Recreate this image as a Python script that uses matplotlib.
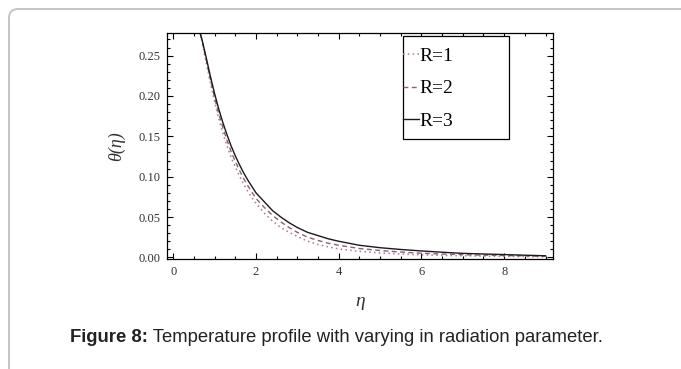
import numpy as np
import matplotlib
matplotlib.use("Agg")
import matplotlib.pyplot as plt
from matplotlib.patches import FancyBboxPatch, Rectangle
from matplotlib.transforms import IdentityTransform
from matplotlib.ticker import MultipleLocator, FormatStrFormatter

# ── Data ──────────────────────────────────────────────────────────────────────
eta = [0.66, 0.7, 0.8, 0.9, 1.0, 1.1, 1.2, 1.3, 1.4, 1.5, 1.6, 1.7, 1.8, 1.9,
       2.0, 2.2, 2.4, 2.6, 2.8, 3.0, 3.25, 3.5, 3.75, 4.0, 4.5, 5.0, 5.5,
       6.0, 6.5, 7.0, 7.5, 8.0, 8.5, 9.0]
theta_r1 = [0.276, 0.267, 0.241, 0.216, 0.193, 0.172, 0.154, 0.138, 0.124,
            0.112, 0.101, 0.091, 0.082, 0.074, 0.067, 0.055, 0.045, 0.037,
            0.031, 0.026, 0.020, 0.016, 0.013, 0.0105, 0.0075, 0.0055,
            0.0042, 0.0032, 0.0025, 0.002, 0.0016, 0.0013, 0.001, 0.0008]
theta_r2 = [0.276, 0.268, 0.244, 0.220, 0.198, 0.178, 0.161, 0.145, 0.131,
            0.119, 0.108, 0.098, 0.089, 0.081, 0.073, 0.062, 0.052, 0.044,
            0.037, 0.031, 0.025, 0.021, 0.0175, 0.015, 0.011, 0.0085,
            0.0066, 0.0052, 0.0042, 0.0034, 0.0028, 0.0023, 0.0018, 0.0014]
theta_r3 = [0.276, 0.269, 0.247, 0.224, 0.203, 0.184, 0.167, 0.152, 0.138,
            0.126, 0.115, 0.105, 0.096, 0.088, 0.080, 0.069, 0.058, 0.050,
            0.043, 0.037, 0.031, 0.027, 0.023, 0.020, 0.015, 0.012,
            0.0098, 0.008, 0.0064, 0.005, 0.0042, 0.0035, 0.0027, 0.002]
labels = ["R=1", "R=2", "R=3"]

caption_bold = "Figure 8:"
caption_rest = " Temperature profile with varying in radiation parameter."

# ── Figure ────────────────────────────────────────────────────────────────────
W, H, DPI = 681, 369, 100
fig = plt.figure(figsize=(W / DPI, H / DPI), dpi=DPI)

# page card outline (rounded corner top-left, runs off right/bottom)
card = FancyBboxPatch((9, -60), 720, H - 9 + 60,
                      boxstyle="round,pad=0,rounding_size=9",
                      transform=IdentityTransform(), fill=False,
                      edgecolor="#c4c4c4", linewidth=1.4)
fig.add_artist(card)

ax = fig.add_axes([167 / W, 1 - 259 / H, 386 / W, 226 / H])

ax.plot(eta, theta_r1, linestyle=(0, (1, 2.0)), color="#b07ea2", lw=1.15, label=labels[0])
ax.plot(eta, theta_r2, linestyle=(0, (3.5, 2.5)), color="#8a6079", lw=1.0, label=labels[1])
ax.plot(eta, theta_r3, linestyle="-", color="#1a1a1a", lw=1.0, label=labels[2])

ax.set_xlim(-0.15, 9.18)
ax.set_ylim(-0.002, 0.278)

ax.xaxis.set_major_locator(MultipleLocator(2))
ax.xaxis.set_minor_locator(MultipleLocator(0.5))
ax.yaxis.set_major_locator(MultipleLocator(0.05))
ax.yaxis.set_minor_locator(MultipleLocator(0.01))
ax.yaxis.set_major_formatter(FormatStrFormatter("%.2f"))

ax.tick_params(which="both", direction="in", top=True, right=True,
               labelsize=9, labelcolor="#333333", width=0.8)
ax.tick_params(which="major", length=4.5, pad=5)
ax.tick_params(which="minor", length=2.5)
for lab in ax.get_xticklabels() + ax.get_yticklabels():
    lab.set_family("Liberation Serif")
for sp in ax.spines.values():
    sp.set_linewidth(0.9)

# axis labels
fig.text(116 / W, 1 - 146 / H, "θ(η)", rotation=90, ha="center", va="center",
         family="Liberation Serif", style="italic", fontsize=13, color="#333333")
fig.text(360 / W, 1 - 302 / H, "η", ha="center", va="center",
         family="Liberation Serif", style="italic", fontsize=14, color="#333333")

# legend box + entries
box = Rectangle((402.7 / W, 1 - 139 / H), 106.3 / W, 103 / H,
                transform=fig.transFigure, fill=True, facecolor="white",
                edgecolor="black", linewidth=0.9, zorder=5, clip_on=False)
ax.add_patch(box)
leg = ax.legend(loc="upper left", bbox_to_anchor=(403 / W, 1 - 47 / H),
                bbox_transform=fig.transFigure, frameon=False,
                prop={"family": "Liberation Serif", "size": 14},
                handlelength=0.8, handletextpad=0.05, labelspacing=0.78,
                borderpad=0, borderaxespad=0)
leg.set_zorder(6)

# caption
t = fig.text(70 / W, 1 - 338 / H, caption_bold, ha="left", va="center",
             family="Liberation Sans", weight="bold", fontsize=13.3, color="#222222")
fig.canvas.draw()
bb = t.get_window_extent()
fig.text(bb.x1 / W, 1 - 338 / H, caption_rest, ha="left", va="center",
         family="Liberation Sans", fontsize=13.3, color="#222222")

fig.savefig("out.png", dpi=DPI)
